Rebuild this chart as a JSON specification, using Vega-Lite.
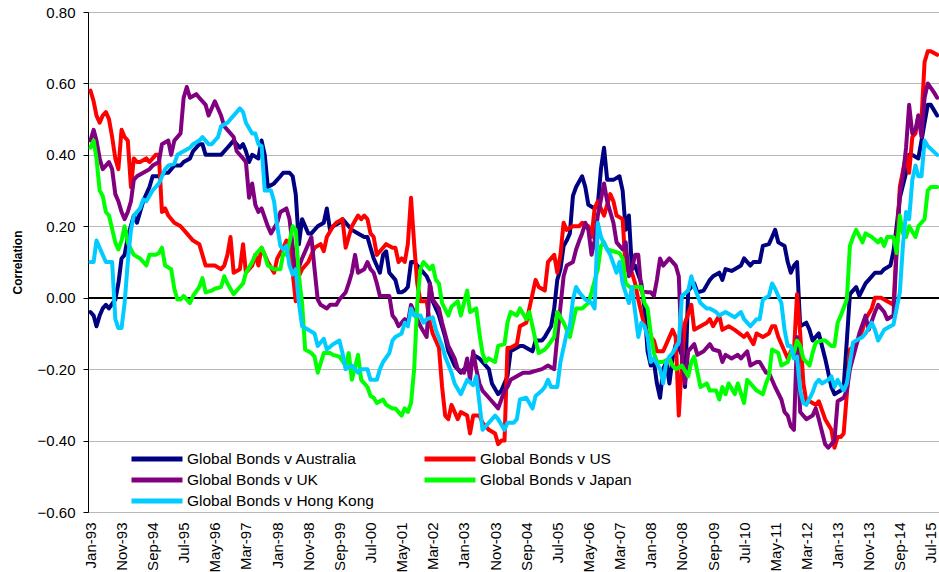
{
  "$schema": "https://vega.github.io/schema/vega-lite/v6.json",
  "width": 851,
  "height": 500,
  "autosize": {"type": "none"},
  "padding": {"left": 88, "top": 12, "right": 0, "bottom": 60},
  "background": "white",
  "config": {
    "font": "Liberation Sans",
    "view": {"stroke": null}
  },
  "data": {"values": [
{"s":"Australia","d":"1993-01","v":-0.04},{"s":"Australia","d":"1993-02","v":-0.05},{"s":"Australia","d":"1993-03","v":-0.08},{"s":"Australia","d":"1993-04","v":-0.05},{"s":"Australia","d":"1993-05","v":-0.03},{"s":"Australia","d":"1993-06","v":-0.02},{"s":"Australia","d":"1993-07","v":-0.03},{"s":"Australia","d":"1993-09","v":-0.005},{"s":"Australia","d":"1993-10","v":0.04},{"s":"Australia","d":"1993-11","v":0.11},{"s":"Australia","d":"1993-12","v":0.12},
{"s":"Australia","d":"1994-01","v":0.17},{"s":"Australia","d":"1994-03","v":0.23},{"s":"Australia","d":"1994-04","v":0.21},{"s":"Australia","d":"1994-06","v":0.27},{"s":"Australia","d":"1994-07","v":0.29},{"s":"Australia","d":"1994-08","v":0.31},{"s":"Australia","d":"1994-09","v":0.34},{"s":"Australia","d":"1994-11","v":0.34},
{"s":"Australia","d":"1995-01","v":0.35},{"s":"Australia","d":"1995-02","v":0.35},{"s":"Australia","d":"1995-04","v":0.37},{"s":"Australia","d":"1995-06","v":0.37},{"s":"Australia","d":"1995-07","v":0.38},{"s":"Australia","d":"1995-09","v":0.39},{"s":"Australia","d":"1995-10","v":0.41},{"s":"Australia","d":"1995-12","v":0.43},
{"s":"Australia","d":"1996-01","v":0.43},{"s":"Australia","d":"1996-02","v":0.40},{"s":"Australia","d":"1996-04","v":0.40},{"s":"Australia","d":"1996-06","v":0.40},{"s":"Australia","d":"1996-07","v":0.40},{"s":"Australia","d":"1996-09","v":0.42},{"s":"Australia","d":"1996-11","v":0.44},
{"s":"Australia","d":"1997-01","v":0.42},{"s":"Australia","d":"1997-02","v":0.43},{"s":"Australia","d":"1997-03","v":0.41},{"s":"Australia","d":"1997-04","v":0.38},{"s":"Australia","d":"1997-05","v":0.40},{"s":"Australia","d":"1997-07","v":0.39},{"s":"Australia","d":"1997-08","v":0.44},{"s":"Australia","d":"1997-09","v":0.40},{"s":"Australia","d":"1997-10","v":0.31},{"s":"Australia","d":"1997-12","v":0.32},
{"s":"Australia","d":"1998-02","v":0.34},{"s":"Australia","d":"1998-03","v":0.35},{"s":"Australia","d":"1998-05","v":0.35},{"s":"Australia","d":"1998-06","v":0.34},{"s":"Australia","d":"1998-07","v":0.29},{"s":"Australia","d":"1998-08","v":0.15},{"s":"Australia","d":"1998-09","v":0.22},{"s":"Australia","d":"1998-11","v":0.18},{"s":"Australia","d":"1998-12","v":0.18},
{"s":"Australia","d":"1999-02","v":0.20},{"s":"Australia","d":"1999-04","v":0.21},{"s":"Australia","d":"1999-05","v":0.25},{"s":"Australia","d":"1999-06","v":0.19},{"s":"Australia","d":"1999-07","v":0.20},{"s":"Australia","d":"1999-09","v":0.21},{"s":"Australia","d":"1999-10","v":0.22},{"s":"Australia","d":"1999-12","v":0.20},
{"s":"Australia","d":"2000-01","v":0.19},{"s":"Australia","d":"2000-03","v":0.18},{"s":"Australia","d":"2000-05","v":0.17},{"s":"Australia","d":"2000-06","v":0.17},{"s":"Australia","d":"2000-07","v":0.14},{"s":"Australia","d":"2000-08","v":0.11},{"s":"Australia","d":"2000-10","v":0.07},{"s":"Australia","d":"2000-11","v":0.12},{"s":"Australia","d":"2000-12","v":0.13},
{"s":"Australia","d":"2001-01","v":0.07},{"s":"Australia","d":"2001-03","v":0.05},{"s":"Australia","d":"2001-04","v":0.015},{"s":"Australia","d":"2001-05","v":0.015},{"s":"Australia","d":"2001-06","v":0.02},{"s":"Australia","d":"2001-07","v":0.03},{"s":"Australia","d":"2001-08","v":0.10},{"s":"Australia","d":"2001-09","v":0.10},{"s":"Australia","d":"2001-11","v":0.08},
{"s":"Australia","d":"2002-01","v":0.06},{"s":"Australia","d":"2002-02","v":0.04},{"s":"Australia","d":"2002-03","v":-0.01},{"s":"Australia","d":"2002-04","v":-0.03},{"s":"Australia","d":"2002-05","v":-0.05},{"s":"Australia","d":"2002-07","v":-0.11},{"s":"Australia","d":"2002-08","v":-0.15},{"s":"Australia","d":"2002-10","v":-0.19},{"s":"Australia","d":"2002-12","v":-0.21},
{"s":"Australia","d":"2003-01","v":-0.20},{"s":"Australia","d":"2003-03","v":-0.20},{"s":"Australia","d":"2003-04","v":-0.16},{"s":"Australia","d":"2003-06","v":-0.17},{"s":"Australia","d":"2003-07","v":-0.18},{"s":"Australia","d":"2003-09","v":-0.20},{"s":"Australia","d":"2003-10","v":-0.24},{"s":"Australia","d":"2003-12","v":-0.27},
{"s":"Australia","d":"2004-01","v":-0.26},{"s":"Australia","d":"2004-03","v":-0.22},{"s":"Australia","d":"2004-04","v":-0.15},{"s":"Australia","d":"2004-05","v":-0.145},{"s":"Australia","d":"2004-07","v":-0.135},{"s":"Australia","d":"2004-08","v":-0.135},{"s":"Australia","d":"2004-10","v":-0.145},{"s":"Australia","d":"2004-11","v":-0.15},{"s":"Australia","d":"2004-12","v":-0.12},
{"s":"Australia","d":"2005-02","v":-0.12},{"s":"Australia","d":"2005-03","v":-0.11},{"s":"Australia","d":"2005-05","v":-0.08},{"s":"Australia","d":"2005-06","v":-0.03},{"s":"Australia","d":"2005-07","v":0.05},{"s":"Australia","d":"2005-08","v":0.08},{"s":"Australia","d":"2005-09","v":0.145},{"s":"Australia","d":"2005-10","v":0.16},{"s":"Australia","d":"2005-11","v":0.18},{"s":"Australia","d":"2005-12","v":0.285},
{"s":"Australia","d":"2006-01","v":0.31},{"s":"Australia","d":"2006-03","v":0.34},{"s":"Australia","d":"2006-04","v":0.31},{"s":"Australia","d":"2006-05","v":0.26},{"s":"Australia","d":"2006-07","v":0.25},{"s":"Australia","d":"2006-08","v":0.26},{"s":"Australia","d":"2006-09","v":0.36},{"s":"Australia","d":"2006-10","v":0.42},{"s":"Australia","d":"2006-11","v":0.33},
{"s":"Australia","d":"2007-01","v":0.33},{"s":"Australia","d":"2007-03","v":0.34},{"s":"Australia","d":"2007-04","v":0.30},{"s":"Australia","d":"2007-05","v":0.19},{"s":"Australia","d":"2007-06","v":0.23},{"s":"Australia","d":"2007-07","v":0.08},{"s":"Australia","d":"2007-08","v":0.09},{"s":"Australia","d":"2007-10","v":0.04},{"s":"Australia","d":"2007-11","v":-0.03},{"s":"Australia","d":"2007-12","v":-0.15},
{"s":"Australia","d":"2008-01","v":-0.19},{"s":"Australia","d":"2008-02","v":-0.18},{"s":"Australia","d":"2008-03","v":-0.24},{"s":"Australia","d":"2008-04","v":-0.28},{"s":"Australia","d":"2008-05","v":-0.20},{"s":"Australia","d":"2008-06","v":-0.18},{"s":"Australia","d":"2008-07","v":-0.24},{"s":"Australia","d":"2008-08","v":-0.17},{"s":"Australia","d":"2008-09","v":-0.13},{"s":"Australia","d":"2008-10","v":-0.14},{"s":"Australia","d":"2008-11","v":-0.16},{"s":"Australia","d":"2008-12","v":-0.25},
{"s":"Australia","d":"2009-01","v":0.02},{"s":"Australia","d":"2009-02","v":0.03},{"s":"Australia","d":"2009-03","v":0.04},{"s":"Australia","d":"2009-04","v":0.015},{"s":"Australia","d":"2009-06","v":0.02},{"s":"Australia","d":"2009-08","v":0.05},{"s":"Australia","d":"2009-09","v":0.06},{"s":"Australia","d":"2009-11","v":0.07},{"s":"Australia","d":"2009-12","v":0.05},
{"s":"Australia","d":"2010-01","v":0.08},{"s":"Australia","d":"2010-03","v":0.075},{"s":"Australia","d":"2010-04","v":0.08},{"s":"Australia","d":"2010-06","v":0.09},{"s":"Australia","d":"2010-07","v":0.11},{"s":"Australia","d":"2010-09","v":0.09},{"s":"Australia","d":"2010-10","v":0.10},{"s":"Australia","d":"2010-12","v":0.10},
{"s":"Australia","d":"2011-01","v":0.145},{"s":"Australia","d":"2011-03","v":0.15},{"s":"Australia","d":"2011-04","v":0.17},{"s":"Australia","d":"2011-05","v":0.19},{"s":"Australia","d":"2011-06","v":0.155},{"s":"Australia","d":"2011-07","v":0.15},{"s":"Australia","d":"2011-08","v":0.145},{"s":"Australia","d":"2011-09","v":0.10},{"s":"Australia","d":"2011-10","v":0.07},{"s":"Australia","d":"2011-11","v":0.09},{"s":"Australia","d":"2011-12","v":0.10},
{"s":"Australia","d":"2012-01","v":-0.08},{"s":"Australia","d":"2012-03","v":-0.07},{"s":"Australia","d":"2012-04","v":-0.09},{"s":"Australia","d":"2012-05","v":-0.12},{"s":"Australia","d":"2012-07","v":-0.10},{"s":"Australia","d":"2012-09","v":-0.17},{"s":"Australia","d":"2012-11","v":-0.25},{"s":"Australia","d":"2012-12","v":-0.27},
{"s":"Australia","d":"2013-02","v":-0.26},{"s":"Australia","d":"2013-03","v":-0.25},{"s":"Australia","d":"2013-04","v":-0.12},{"s":"Australia","d":"2013-05","v":0.01},{"s":"Australia","d":"2013-07","v":0.03},{"s":"Australia","d":"2013-08","v":0.005},{"s":"Australia","d":"2013-10","v":0.04},{"s":"Australia","d":"2013-11","v":0.05},
{"s":"Australia","d":"2014-01","v":0.07},{"s":"Australia","d":"2014-03","v":0.07},{"s":"Australia","d":"2014-04","v":0.08},{"s":"Australia","d":"2014-06","v":0.09},{"s":"Australia","d":"2014-07","v":0.13},{"s":"Australia","d":"2014-08","v":0.20},{"s":"Australia","d":"2014-09","v":0.28},{"s":"Australia","d":"2014-11","v":0.35},{"s":"Australia","d":"2014-12","v":0.40},
{"s":"Australia","d":"2015-01","v":0.40},{"s":"Australia","d":"2015-03","v":0.39},{"s":"Australia","d":"2015-04","v":0.44},{"s":"Australia","d":"2015-05","v":0.49},{"s":"Australia","d":"2015-06","v":0.54},{"s":"Australia","d":"2015-07","v":0.54},{"s":"Australia","d":"2015-09","v":0.51},

{"s":"US","d":"1993-01","v":0.58},{"s":"US","d":"1993-02","v":0.55},{"s":"US","d":"1993-03","v":0.51},{"s":"US","d":"1993-04","v":0.49},{"s":"US","d":"1993-05","v":0.51},{"s":"US","d":"1993-06","v":0.52},{"s":"US","d":"1993-07","v":0.50},{"s":"US","d":"1993-08","v":0.45},{"s":"US","d":"1993-09","v":0.39},{"s":"US","d":"1993-10","v":0.36},{"s":"US","d":"1993-11","v":0.47},{"s":"US","d":"1993-12","v":0.45},
{"s":"US","d":"1994-01","v":0.44},{"s":"US","d":"1994-02","v":0.31},{"s":"US","d":"1994-03","v":0.39},{"s":"US","d":"1994-04","v":0.38},{"s":"US","d":"1994-05","v":0.38},{"s":"US","d":"1994-07","v":0.39},{"s":"US","d":"1994-08","v":0.38},{"s":"US","d":"1994-09","v":0.39},{"s":"US","d":"1994-10","v":0.40},{"s":"US","d":"1994-11","v":0.40},{"s":"US","d":"1994-12","v":0.24},
{"s":"US","d":"1995-01","v":0.25},{"s":"US","d":"1995-02","v":0.23},{"s":"US","d":"1995-04","v":0.21},{"s":"US","d":"1995-06","v":0.20},{"s":"US","d":"1995-08","v":0.18},{"s":"US","d":"1995-10","v":0.16},{"s":"US","d":"1995-12","v":0.15},
{"s":"US","d":"1996-01","v":0.12},{"s":"US","d":"1996-02","v":0.09},{"s":"US","d":"1996-04","v":0.09},{"s":"US","d":"1996-05","v":0.09},{"s":"US","d":"1996-07","v":0.08},{"s":"US","d":"1996-08","v":0.09},{"s":"US","d":"1996-09","v":0.12},{"s":"US","d":"1996-10","v":0.17},{"s":"US","d":"1996-11","v":0.07},
{"s":"US","d":"1997-01","v":0.08},{"s":"US","d":"1997-02","v":0.15},{"s":"US","d":"1997-03","v":0.07},{"s":"US","d":"1997-05","v":0.09},{"s":"US","d":"1997-06","v":0.12},{"s":"US","d":"1997-07","v":0.09},{"s":"US","d":"1997-08","v":0.14},{"s":"US","d":"1997-10","v":0.10},{"s":"US","d":"1997-12","v":0.07},
{"s":"US","d":"1998-01","v":0.11},{"s":"US","d":"1998-03","v":0.14},{"s":"US","d":"1998-04","v":0.16},{"s":"US","d":"1998-05","v":0.14},{"s":"US","d":"1998-06","v":0.07},{"s":"US","d":"1998-07","v":-0.01},{"s":"US","d":"1998-08","v":0.06},{"s":"US","d":"1998-09","v":0.08},{"s":"US","d":"1998-11","v":0.10},{"s":"US","d":"1998-12","v":0.12},
{"s":"US","d":"1999-01","v":0.14},{"s":"US","d":"1999-03","v":0.15},{"s":"US","d":"1999-04","v":0.13},{"s":"US","d":"1999-05","v":0.17},{"s":"US","d":"1999-07","v":0.20},{"s":"US","d":"1999-08","v":0.21},{"s":"US","d":"1999-10","v":0.22},{"s":"US","d":"1999-11","v":0.14},
{"s":"US","d":"2000-01","v":0.20},{"s":"US","d":"2000-03","v":0.23},{"s":"US","d":"2000-04","v":0.22},{"s":"US","d":"2000-05","v":0.23},{"s":"US","d":"2000-06","v":0.22},{"s":"US","d":"2000-07","v":0.18},{"s":"US","d":"2000-08","v":0.17},{"s":"US","d":"2000-09","v":0.12},{"s":"US","d":"2000-11","v":0.14},{"s":"US","d":"2000-12","v":0.15},
{"s":"US","d":"2001-02","v":0.14},{"s":"US","d":"2001-03","v":0.14},{"s":"US","d":"2001-04","v":0.10},{"s":"US","d":"2001-05","v":0.11},{"s":"US","d":"2001-06","v":0.10},{"s":"US","d":"2001-07","v":0.15},{"s":"US","d":"2001-08","v":0.28},{"s":"US","d":"2001-09","v":0.15},{"s":"US","d":"2001-10","v":0.04},{"s":"US","d":"2001-11","v":-0.01},
{"s":"US","d":"2002-01","v":-0.01},{"s":"US","d":"2002-02","v":-0.07},{"s":"US","d":"2002-03","v":-0.10},{"s":"US","d":"2002-05","v":-0.14},{"s":"US","d":"2002-06","v":-0.25},{"s":"US","d":"2002-07","v":-0.33},{"s":"US","d":"2002-08","v":-0.34},{"s":"US","d":"2002-09","v":-0.30},{"s":"US","d":"2002-11","v":-0.34},{"s":"US","d":"2002-12","v":-0.32},
{"s":"US","d":"2003-02","v":-0.33},{"s":"US","d":"2003-03","v":-0.38},{"s":"US","d":"2003-04","v":-0.33},{"s":"US","d":"2003-06","v":-0.33},{"s":"US","d":"2003-07","v":-0.35},{"s":"US","d":"2003-09","v":-0.37},{"s":"US","d":"2003-11","v":-0.38},{"s":"US","d":"2003-12","v":-0.41},
{"s":"US","d":"2004-01","v":-0.40},{"s":"US","d":"2004-02","v":-0.40},{"s":"US","d":"2004-03","v":-0.14},{"s":"US","d":"2004-04","v":-0.14},{"s":"US","d":"2004-06","v":-0.13},{"s":"US","d":"2004-07","v":-0.08},{"s":"US","d":"2004-09","v":-0.07},{"s":"US","d":"2004-10","v":-0.03},{"s":"US","d":"2004-12","v":0.05},
{"s":"US","d":"2005-01","v":0.03},{"s":"US","d":"2005-03","v":0.02},{"s":"US","d":"2005-04","v":0.10},{"s":"US","d":"2005-06","v":0.12},{"s":"US","d":"2005-07","v":0.07},{"s":"US","d":"2005-08","v":0.12},{"s":"US","d":"2005-09","v":0.21},{"s":"US","d":"2005-10","v":0.19},{"s":"US","d":"2005-12","v":0.20},
{"s":"US","d":"2006-02","v":0.20},{"s":"US","d":"2006-03","v":0.21},{"s":"US","d":"2006-05","v":0.20},{"s":"US","d":"2006-06","v":0.17},{"s":"US","d":"2006-07","v":0.25},{"s":"US","d":"2006-08","v":0.27},{"s":"US","d":"2006-10","v":0.23},{"s":"US","d":"2006-12","v":0.29},
{"s":"US","d":"2007-01","v":0.27},{"s":"US","d":"2007-02","v":0.23},{"s":"US","d":"2007-04","v":0.22},{"s":"US","d":"2007-05","v":0.08},{"s":"US","d":"2007-07","v":0.07},{"s":"US","d":"2007-08","v":0.04},{"s":"US","d":"2007-09","v":-0.005},{"s":"US","d":"2007-11","v":-0.08},{"s":"US","d":"2007-12","v":-0.10},
{"s":"US","d":"2008-02","v":-0.12},{"s":"US","d":"2008-03","v":-0.15},{"s":"US","d":"2008-05","v":-0.15},{"s":"US","d":"2008-06","v":-0.13},{"s":"US","d":"2008-08","v":-0.09},{"s":"US","d":"2008-09","v":-0.11},{"s":"US","d":"2008-10","v":-0.33},{"s":"US","d":"2008-11","v":-0.18},{"s":"US","d":"2008-12","v":-0.07},
{"s":"US","d":"2009-02","v":-0.02},{"s":"US","d":"2009-03","v":-0.09},{"s":"US","d":"2009-05","v":-0.08},{"s":"US","d":"2009-07","v":-0.07},{"s":"US","d":"2009-08","v":-0.06},{"s":"US","d":"2009-09","v":-0.08},{"s":"US","d":"2009-11","v":-0.05},{"s":"US","d":"2009-12","v":-0.09},
{"s":"US","d":"2010-02","v":-0.08},{"s":"US","d":"2010-04","v":-0.09},{"s":"US","d":"2010-07","v":-0.11},{"s":"US","d":"2010-08","v":-0.10},{"s":"US","d":"2010-10","v":-0.13},{"s":"US","d":"2010-11","v":-0.10},
{"s":"US","d":"2011-01","v":-0.11},{"s":"US","d":"2011-03","v":-0.10},{"s":"US","d":"2011-04","v":-0.08},{"s":"US","d":"2011-05","v":-0.08},{"s":"US","d":"2011-06","v":-0.11},{"s":"US","d":"2011-08","v":-0.15},{"s":"US","d":"2011-09","v":-0.17},{"s":"US","d":"2011-10","v":-0.15},{"s":"US","d":"2011-11","v":-0.15},{"s":"US","d":"2011-12","v":0.01},
{"s":"US","d":"2012-01","v":-0.10},{"s":"US","d":"2012-02","v":-0.24},{"s":"US","d":"2012-03","v":-0.29},{"s":"US","d":"2012-04","v":-0.29},{"s":"US","d":"2012-06","v":-0.30},{"s":"US","d":"2012-07","v":-0.29},{"s":"US","d":"2012-09","v":-0.34},{"s":"US","d":"2012-11","v":-0.37},{"s":"US","d":"2012-12","v":-0.42},
{"s":"US","d":"2013-01","v":-0.39},{"s":"US","d":"2013-02","v":-0.39},{"s":"US","d":"2013-03","v":-0.38},{"s":"US","d":"2013-04","v":-0.27},{"s":"US","d":"2013-05","v":-0.145},{"s":"US","d":"2013-07","v":-0.13},{"s":"US","d":"2013-09","v":-0.09},{"s":"US","d":"2013-10","v":-0.06},{"s":"US","d":"2013-12","v":-0.03},
{"s":"US","d":"2014-01","v":0.0},{"s":"US","d":"2014-03","v":0.0},{"s":"US","d":"2014-05","v":-0.01},{"s":"US","d":"2014-07","v":-0.02},{"s":"US","d":"2014-08","v":0.145},{"s":"US","d":"2014-09","v":0.31},{"s":"US","d":"2014-11","v":0.40},{"s":"US","d":"2014-12","v":0.35},
{"s":"US","d":"2015-01","v":0.45},{"s":"US","d":"2015-02","v":0.46},{"s":"US","d":"2015-03","v":0.51},{"s":"US","d":"2015-04","v":0.50},{"s":"US","d":"2015-05","v":0.66},{"s":"US","d":"2015-06","v":0.69},{"s":"US","d":"2015-07","v":0.69},{"s":"US","d":"2015-09","v":0.68},

{"s":"UK","d":"1993-01","v":0.44},{"s":"UK","d":"1993-02","v":0.47},{"s":"UK","d":"1993-03","v":0.44},{"s":"UK","d":"1993-04","v":0.39},{"s":"UK","d":"1993-05","v":0.36},{"s":"UK","d":"1993-06","v":0.37},{"s":"UK","d":"1993-07","v":0.38},{"s":"UK","d":"1993-08","v":0.36},{"s":"UK","d":"1993-09","v":0.29},{"s":"UK","d":"1993-10","v":0.27},{"s":"UK","d":"1993-11","v":0.24},{"s":"UK","d":"1993-12","v":0.22},
{"s":"UK","d":"1994-01","v":0.24},{"s":"UK","d":"1994-02","v":0.27},{"s":"UK","d":"1994-03","v":0.33},{"s":"UK","d":"1994-04","v":0.34},{"s":"UK","d":"1994-06","v":0.35},{"s":"UK","d":"1994-08","v":0.36},{"s":"UK","d":"1994-09","v":0.37},{"s":"UK","d":"1994-11","v":0.38},{"s":"UK","d":"1994-12","v":0.43},
{"s":"UK","d":"1995-02","v":0.44},{"s":"UK","d":"1995-03","v":0.40},{"s":"UK","d":"1995-04","v":0.44},{"s":"UK","d":"1995-06","v":0.46},{"s":"UK","d":"1995-07","v":0.56},{"s":"UK","d":"1995-08","v":0.59},{"s":"UK","d":"1995-09","v":0.56},{"s":"UK","d":"1995-11","v":0.57},{"s":"UK","d":"1995-12","v":0.56},
{"s":"UK","d":"1996-02","v":0.54},{"s":"UK","d":"1996-03","v":0.51},{"s":"UK","d":"1996-05","v":0.55},{"s":"UK","d":"1996-07","v":0.51},{"s":"UK","d":"1996-08","v":0.48},{"s":"UK","d":"1996-09","v":0.47},{"s":"UK","d":"1996-11","v":0.45},{"s":"UK","d":"1996-12","v":0.41},
{"s":"UK","d":"1997-02","v":0.39},{"s":"UK","d":"1997-03","v":0.38},{"s":"UK","d":"1997-04","v":0.28},{"s":"UK","d":"1997-05","v":0.32},{"s":"UK","d":"1997-06","v":0.26},{"s":"UK","d":"1997-07","v":0.24},{"s":"UK","d":"1997-08","v":0.25},{"s":"UK","d":"1997-10","v":0.20},{"s":"UK","d":"1997-11","v":0.18},
{"s":"UK","d":"1998-01","v":0.21},{"s":"UK","d":"1998-02","v":0.24},{"s":"UK","d":"1998-04","v":0.25},{"s":"UK","d":"1998-05","v":0.22},{"s":"UK","d":"1998-06","v":0.145},{"s":"UK","d":"1998-07","v":0.06},{"s":"UK","d":"1998-09","v":0.11},{"s":"UK","d":"1998-11","v":0.15},{"s":"UK","d":"1998-12","v":0.17},
{"s":"UK","d":"1999-01","v":0.08},{"s":"UK","d":"1999-02","v":-0.005},{"s":"UK","d":"1999-03","v":-0.02},{"s":"UK","d":"1999-05","v":-0.03},{"s":"UK","d":"1999-06","v":-0.02},{"s":"UK","d":"1999-08","v":-0.02},{"s":"UK","d":"1999-09","v":-0.005},{"s":"UK","d":"1999-11","v":0.015},{"s":"UK","d":"1999-12","v":0.04},
{"s":"UK","d":"2000-01","v":0.07},{"s":"UK","d":"2000-02","v":0.12},{"s":"UK","d":"2000-03","v":0.07},{"s":"UK","d":"2000-05","v":0.08},{"s":"UK","d":"2000-06","v":0.10},{"s":"UK","d":"2000-07","v":0.08},{"s":"UK","d":"2000-08","v":0.07},{"s":"UK","d":"2000-09","v":0.04},{"s":"UK","d":"2000-10","v":0.005},{"s":"UK","d":"2000-12","v":0.005},
{"s":"UK","d":"2001-01","v":0.005},{"s":"UK","d":"2001-02","v":-0.05},{"s":"UK","d":"2001-03","v":-0.06},{"s":"UK","d":"2001-04","v":-0.08},{"s":"UK","d":"2001-06","v":-0.06},{"s":"UK","d":"2001-07","v":-0.07},{"s":"UK","d":"2001-08","v":-0.02},{"s":"UK","d":"2001-09","v":-0.04},{"s":"UK","d":"2001-11","v":-0.08},
{"s":"UK","d":"2002-01","v":-0.11},{"s":"UK","d":"2002-02","v":0.04},{"s":"UK","d":"2002-03","v":-0.005},{"s":"UK","d":"2002-05","v":-0.03},{"s":"UK","d":"2002-06","v":-0.07},{"s":"UK","d":"2002-08","v":-0.135},{"s":"UK","d":"2002-10","v":-0.17},{"s":"UK","d":"2002-11","v":-0.20},
{"s":"UK","d":"2003-01","v":-0.21},{"s":"UK","d":"2003-02","v":-0.17},{"s":"UK","d":"2003-03","v":-0.23},{"s":"UK","d":"2003-04","v":-0.15},{"s":"UK","d":"2003-05","v":-0.20},{"s":"UK","d":"2003-06","v":-0.24},{"s":"UK","d":"2003-07","v":-0.26},{"s":"UK","d":"2003-09","v":-0.28},{"s":"UK","d":"2003-10","v":-0.29},{"s":"UK","d":"2003-12","v":-0.31},
{"s":"UK","d":"2004-01","v":-0.285},{"s":"UK","d":"2004-02","v":-0.26},{"s":"UK","d":"2004-03","v":-0.25},{"s":"UK","d":"2004-04","v":-0.23},{"s":"UK","d":"2004-06","v":-0.22},{"s":"UK","d":"2004-08","v":-0.21},{"s":"UK","d":"2004-10","v":-0.21},{"s":"UK","d":"2004-12","v":-0.205},
{"s":"UK","d":"2005-02","v":-0.20},{"s":"UK","d":"2005-04","v":-0.19},{"s":"UK","d":"2005-06","v":-0.20},{"s":"UK","d":"2005-07","v":-0.11},{"s":"UK","d":"2005-09","v":0.06},{"s":"UK","d":"2005-10","v":0.09},{"s":"UK","d":"2005-12","v":0.10},
{"s":"UK","d":"2006-01","v":0.135},{"s":"UK","d":"2006-02","v":0.16},{"s":"UK","d":"2006-03","v":0.18},{"s":"UK","d":"2006-04","v":0.21},{"s":"UK","d":"2006-05","v":0.19},{"s":"UK","d":"2006-06","v":0.12},{"s":"UK","d":"2006-07","v":0.16},{"s":"UK","d":"2006-08","v":0.23},{"s":"UK","d":"2006-09","v":0.275},{"s":"UK","d":"2006-10","v":0.32},{"s":"UK","d":"2006-11","v":0.27},{"s":"UK","d":"2006-12","v":0.24},
{"s":"UK","d":"2007-01","v":0.21},{"s":"UK","d":"2007-02","v":0.155},{"s":"UK","d":"2007-04","v":0.135},{"s":"UK","d":"2007-05","v":0.155},{"s":"UK","d":"2007-06","v":0.06},{"s":"UK","d":"2007-07","v":0.08},{"s":"UK","d":"2007-08","v":0.12},{"s":"UK","d":"2007-09","v":0.12},{"s":"UK","d":"2007-10","v":0.02},{"s":"UK","d":"2007-12","v":0.015},
{"s":"UK","d":"2008-01","v":0.015},{"s":"UK","d":"2008-02","v":0.005},{"s":"UK","d":"2008-03","v":0.05},{"s":"UK","d":"2008-04","v":0.11},{"s":"UK","d":"2008-05","v":0.09},{"s":"UK","d":"2008-07","v":0.11},{"s":"UK","d":"2008-09","v":0.09},{"s":"UK","d":"2008-10","v":0.06},{"s":"UK","d":"2008-11","v":-0.17},{"s":"UK","d":"2008-12","v":-0.24},
{"s":"UK","d":"2009-01","v":-0.15},{"s":"UK","d":"2009-03","v":-0.13},{"s":"UK","d":"2009-04","v":-0.16},{"s":"UK","d":"2009-06","v":-0.15},{"s":"UK","d":"2009-08","v":-0.13},{"s":"UK","d":"2009-09","v":-0.145},{"s":"UK","d":"2009-11","v":-0.15},{"s":"UK","d":"2009-12","v":-0.18},
{"s":"UK","d":"2010-01","v":-0.16},{"s":"UK","d":"2010-03","v":-0.17},{"s":"UK","d":"2010-05","v":-0.16},{"s":"UK","d":"2010-06","v":-0.17},{"s":"UK","d":"2010-08","v":-0.15},{"s":"UK","d":"2010-09","v":-0.19},{"s":"UK","d":"2010-11","v":-0.18},{"s":"UK","d":"2010-12","v":-0.18},
{"s":"UK","d":"2011-02","v":-0.21},{"s":"UK","d":"2011-03","v":-0.21},{"s":"UK","d":"2011-05","v":-0.25},{"s":"UK","d":"2011-07","v":-0.285},{"s":"UK","d":"2011-08","v":-0.32},{"s":"UK","d":"2011-09","v":-0.33},{"s":"UK","d":"2011-10","v":-0.36},{"s":"UK","d":"2011-11","v":-0.37},{"s":"UK","d":"2011-12","v":-0.11},
{"s":"UK","d":"2012-01","v":-0.32},{"s":"UK","d":"2012-03","v":-0.34},{"s":"UK","d":"2012-05","v":-0.33},{"s":"UK","d":"2012-06","v":-0.31},{"s":"UK","d":"2012-07","v":-0.34},{"s":"UK","d":"2012-09","v":-0.41},{"s":"UK","d":"2012-10","v":-0.42},{"s":"UK","d":"2012-12","v":-0.40},
{"s":"UK","d":"2013-01","v":-0.29},{"s":"UK","d":"2013-03","v":-0.28},{"s":"UK","d":"2013-04","v":-0.26},{"s":"UK","d":"2013-05","v":-0.20},{"s":"UK","d":"2013-07","v":-0.135},{"s":"UK","d":"2013-08","v":-0.10},{"s":"UK","d":"2013-10","v":-0.05},{"s":"UK","d":"2013-11","v":-0.09},
{"s":"UK","d":"2014-01","v":-0.04},{"s":"UK","d":"2014-02","v":-0.02},{"s":"UK","d":"2014-04","v":-0.04},{"s":"UK","d":"2014-05","v":-0.06},{"s":"UK","d":"2014-07","v":-0.05},{"s":"UK","d":"2014-08","v":0.13},{"s":"UK","d":"2014-09","v":0.29},{"s":"UK","d":"2014-10","v":0.34},{"s":"UK","d":"2014-11","v":0.42},{"s":"UK","d":"2014-12","v":0.54},
{"s":"UK","d":"2015-01","v":0.46},{"s":"UK","d":"2015-02","v":0.47},{"s":"UK","d":"2015-03","v":0.51},{"s":"UK","d":"2015-04","v":0.45},{"s":"UK","d":"2015-05","v":0.56},{"s":"UK","d":"2015-06","v":0.60},{"s":"UK","d":"2015-08","v":0.575},{"s":"UK","d":"2015-09","v":0.56},

{"s":"Japan","d":"1993-01","v":0.42},{"s":"Japan","d":"1993-02","v":0.44},{"s":"Japan","d":"1993-03","v":0.39},{"s":"Japan","d":"1993-04","v":0.30},{"s":"Japan","d":"1993-05","v":0.285},{"s":"Japan","d":"1993-06","v":0.24},{"s":"Japan","d":"1993-07","v":0.23},{"s":"Japan","d":"1993-09","v":0.155},{"s":"Japan","d":"1993-10","v":0.135},{"s":"Japan","d":"1993-11","v":0.16},{"s":"Japan","d":"1993-12","v":0.20},
{"s":"Japan","d":"1994-01","v":0.155},{"s":"Japan","d":"1994-02","v":0.135},{"s":"Japan","d":"1994-03","v":0.12},{"s":"Japan","d":"1994-05","v":0.11},{"s":"Japan","d":"1994-06","v":0.10},{"s":"Japan","d":"1994-07","v":0.09},{"s":"Japan","d":"1994-08","v":0.12},{"s":"Japan","d":"1994-10","v":0.12},{"s":"Japan","d":"1994-11","v":0.125},{"s":"Japan","d":"1994-12","v":0.14},
{"s":"Japan","d":"1995-01","v":0.09},{"s":"Japan","d":"1995-03","v":0.08},{"s":"Japan","d":"1995-04","v":0.025},{"s":"Japan","d":"1995-05","v":-0.005},{"s":"Japan","d":"1995-06","v":-0.005},{"s":"Japan","d":"1995-07","v":0.005},{"s":"Japan","d":"1995-09","v":-0.015},{"s":"Japan","d":"1995-10","v":0.005},{"s":"Japan","d":"1995-12","v":0.03},
{"s":"Japan","d":"1996-01","v":0.055},{"s":"Japan","d":"1996-02","v":0.015},{"s":"Japan","d":"1996-04","v":0.02},{"s":"Japan","d":"1996-05","v":0.025},{"s":"Japan","d":"1996-07","v":0.03},{"s":"Japan","d":"1996-08","v":0.06},{"s":"Japan","d":"1996-09","v":0.04},{"s":"Japan","d":"1996-11","v":0.01},
{"s":"Japan","d":"1997-01","v":0.03},{"s":"Japan","d":"1997-02","v":0.04},{"s":"Japan","d":"1997-03","v":0.07},{"s":"Japan","d":"1997-05","v":0.10},{"s":"Japan","d":"1997-06","v":0.12},{"s":"Japan","d":"1997-08","v":0.14},{"s":"Japan","d":"1997-09","v":0.12},{"s":"Japan","d":"1997-10","v":0.09},{"s":"Japan","d":"1997-12","v":0.08},
{"s":"Japan","d":"1998-02","v":0.08},{"s":"Japan","d":"1998-03","v":0.125},{"s":"Japan","d":"1998-04","v":0.12},{"s":"Japan","d":"1998-05","v":0.155},{"s":"Japan","d":"1998-06","v":0.20},{"s":"Japan","d":"1998-07","v":0.19},{"s":"Japan","d":"1998-08","v":0.06},{"s":"Japan","d":"1998-09","v":-0.015},{"s":"Japan","d":"1998-10","v":-0.145},{"s":"Japan","d":"1998-12","v":-0.155},
{"s":"Japan","d":"1999-01","v":-0.165},{"s":"Japan","d":"1999-02","v":-0.21},{"s":"Japan","d":"1999-04","v":-0.155},{"s":"Japan","d":"1999-06","v":-0.155},{"s":"Japan","d":"1999-07","v":-0.16},{"s":"Japan","d":"1999-09","v":-0.165},{"s":"Japan","d":"1999-11","v":-0.19},{"s":"Japan","d":"1999-12","v":-0.155},
{"s":"Japan","d":"2000-01","v":-0.23},{"s":"Japan","d":"2000-03","v":-0.16},{"s":"Japan","d":"2000-04","v":-0.23},{"s":"Japan","d":"2000-06","v":-0.25},{"s":"Japan","d":"2000-07","v":-0.275},{"s":"Japan","d":"2000-08","v":-0.28},{"s":"Japan","d":"2000-09","v":-0.295},{"s":"Japan","d":"2000-11","v":-0.285},{"s":"Japan","d":"2000-12","v":-0.30},
{"s":"Japan","d":"2001-02","v":-0.31},{"s":"Japan","d":"2001-03","v":-0.31},{"s":"Japan","d":"2001-05","v":-0.33},{"s":"Japan","d":"2001-06","v":-0.31},{"s":"Japan","d":"2001-07","v":-0.32},{"s":"Japan","d":"2001-08","v":-0.295},{"s":"Japan","d":"2001-09","v":-0.20},{"s":"Japan","d":"2001-10","v":-0.015},{"s":"Japan","d":"2001-11","v":0.08},{"s":"Japan","d":"2001-12","v":0.10},
{"s":"Japan","d":"2002-02","v":0.08},{"s":"Japan","d":"2002-03","v":0.09},{"s":"Japan","d":"2002-04","v":0.05},{"s":"Japan","d":"2002-05","v":0.04},{"s":"Japan","d":"2002-06","v":-0.015},{"s":"Japan","d":"2002-08","v":-0.05},{"s":"Japan","d":"2002-09","v":-0.025},{"s":"Japan","d":"2002-11","v":-0.01},{"s":"Japan","d":"2002-12","v":-0.05},
{"s":"Japan","d":"2003-01","v":-0.015},{"s":"Japan","d":"2003-02","v":0.02},{"s":"Japan","d":"2003-03","v":-0.04},{"s":"Japan","d":"2003-05","v":-0.03},{"s":"Japan","d":"2003-06","v":-0.10},{"s":"Japan","d":"2003-07","v":-0.155},{"s":"Japan","d":"2003-08","v":-0.18},{"s":"Japan","d":"2003-09","v":-0.17},{"s":"Japan","d":"2003-11","v":-0.18},{"s":"Japan","d":"2003-12","v":-0.135},
{"s":"Japan","d":"2004-02","v":-0.13},{"s":"Japan","d":"2004-03","v":-0.07},{"s":"Japan","d":"2004-04","v":-0.04},{"s":"Japan","d":"2004-06","v":-0.05},{"s":"Japan","d":"2004-07","v":-0.03},{"s":"Japan","d":"2004-09","v":-0.06},{"s":"Japan","d":"2004-10","v":-0.04},{"s":"Japan","d":"2004-12","v":-0.12},
{"s":"Japan","d":"2005-01","v":-0.155},{"s":"Japan","d":"2005-03","v":-0.145},{"s":"Japan","d":"2005-04","v":-0.135},{"s":"Japan","d":"2005-06","v":-0.11},{"s":"Japan","d":"2005-07","v":-0.04},{"s":"Japan","d":"2005-09","v":-0.07},{"s":"Japan","d":"2005-11","v":-0.11},{"s":"Japan","d":"2005-12","v":-0.07},
{"s":"Japan","d":"2006-01","v":-0.03},{"s":"Japan","d":"2006-03","v":-0.03},{"s":"Japan","d":"2006-05","v":-0.015},{"s":"Japan","d":"2006-06","v":0.015},{"s":"Japan","d":"2006-08","v":0.08},{"s":"Japan","d":"2006-09","v":0.145},{"s":"Japan","d":"2006-10","v":0.155},{"s":"Japan","d":"2006-11","v":0.135},
{"s":"Japan","d":"2007-01","v":0.13},{"s":"Japan","d":"2007-03","v":0.125},{"s":"Japan","d":"2007-04","v":0.11},{"s":"Japan","d":"2007-05","v":0.04},{"s":"Japan","d":"2007-07","v":0.025},{"s":"Japan","d":"2007-08","v":0.03},{"s":"Japan","d":"2007-10","v":0.03},{"s":"Japan","d":"2007-11","v":-0.015},{"s":"Japan","d":"2007-12","v":-0.03},
{"s":"Japan","d":"2008-01","v":-0.10},{"s":"Japan","d":"2008-02","v":-0.155},{"s":"Japan","d":"2008-03","v":-0.18},{"s":"Japan","d":"2008-05","v":-0.18},{"s":"Japan","d":"2008-07","v":-0.17},{"s":"Japan","d":"2008-08","v":-0.19},{"s":"Japan","d":"2008-09","v":-0.20},{"s":"Japan","d":"2008-11","v":-0.19},
{"s":"Japan","d":"2009-01","v":-0.22},{"s":"Japan","d":"2009-02","v":-0.18},{"s":"Japan","d":"2009-03","v":-0.165},{"s":"Japan","d":"2009-05","v":-0.25},{"s":"Japan","d":"2009-07","v":-0.24},{"s":"Japan","d":"2009-08","v":-0.26},{"s":"Japan","d":"2009-10","v":-0.26},{"s":"Japan","d":"2009-11","v":-0.285},{"s":"Japan","d":"2009-12","v":-0.25},
{"s":"Japan","d":"2010-01","v":-0.27},{"s":"Japan","d":"2010-02","v":-0.24},{"s":"Japan","d":"2010-04","v":-0.27},{"s":"Japan","d":"2010-05","v":-0.24},{"s":"Japan","d":"2010-07","v":-0.295},{"s":"Japan","d":"2010-08","v":-0.23},{"s":"Japan","d":"2010-09","v":-0.24},{"s":"Japan","d":"2010-11","v":-0.26},
{"s":"Japan","d":"2011-01","v":-0.27},{"s":"Japan","d":"2011-02","v":-0.24},{"s":"Japan","d":"2011-03","v":-0.22},{"s":"Japan","d":"2011-04","v":-0.145},{"s":"Japan","d":"2011-06","v":-0.155},{"s":"Japan","d":"2011-07","v":-0.19},{"s":"Japan","d":"2011-09","v":-0.18},{"s":"Japan","d":"2011-10","v":-0.155},{"s":"Japan","d":"2011-11","v":-0.155},{"s":"Japan","d":"2011-12","v":-0.12},
{"s":"Japan","d":"2012-01","v":-0.135},{"s":"Japan","d":"2012-02","v":-0.17},{"s":"Japan","d":"2012-04","v":-0.19},{"s":"Japan","d":"2012-05","v":-0.155},{"s":"Japan","d":"2012-06","v":-0.125},{"s":"Japan","d":"2012-08","v":-0.12},{"s":"Japan","d":"2012-09","v":-0.12},{"s":"Japan","d":"2012-11","v":-0.135},{"s":"Japan","d":"2012-12","v":-0.135},
{"s":"Japan","d":"2013-01","v":-0.07},{"s":"Japan","d":"2013-02","v":-0.05},{"s":"Japan","d":"2013-04","v":-0.005},{"s":"Japan","d":"2013-05","v":0.145},{"s":"Japan","d":"2013-06","v":0.17},{"s":"Japan","d":"2013-07","v":0.19},{"s":"Japan","d":"2013-09","v":0.155},{"s":"Japan","d":"2013-10","v":0.18},{"s":"Japan","d":"2013-12","v":0.17},
{"s":"Japan","d":"2014-02","v":0.155},{"s":"Japan","d":"2014-03","v":0.165},{"s":"Japan","d":"2014-04","v":0.145},{"s":"Japan","d":"2014-05","v":0.17},{"s":"Japan","d":"2014-07","v":0.17},{"s":"Japan","d":"2014-08","v":0.125},{"s":"Japan","d":"2014-09","v":0.23},{"s":"Japan","d":"2014-10","v":0.18},{"s":"Japan","d":"2014-11","v":0.17},{"s":"Japan","d":"2014-12","v":0.20},
{"s":"Japan","d":"2015-02","v":0.17},{"s":"Japan","d":"2015-03","v":0.20},{"s":"Japan","d":"2015-05","v":0.22},{"s":"Japan","d":"2015-06","v":0.30},{"s":"Japan","d":"2015-07","v":0.31},{"s":"Japan","d":"2015-09","v":0.31},

{"s":"Hong Kong","d":"1993-01","v":0.10},{"s":"Hong Kong","d":"1993-02","v":0.10},{"s":"Hong Kong","d":"1993-03","v":0.16},{"s":"Hong Kong","d":"1993-04","v":0.14},{"s":"Hong Kong","d":"1993-05","v":0.12},{"s":"Hong Kong","d":"1993-06","v":0.10},{"s":"Hong Kong","d":"1993-07","v":0.10},{"s":"Hong Kong","d":"1993-08","v":0.10},{"s":"Hong Kong","d":"1993-09","v":-0.06},{"s":"Hong Kong","d":"1993-10","v":-0.085},{"s":"Hong Kong","d":"1993-11","v":-0.085},{"s":"Hong Kong","d":"1993-12","v":-0.015},
{"s":"Hong Kong","d":"1994-01","v":0.10},{"s":"Hong Kong","d":"1994-02","v":0.19},{"s":"Hong Kong","d":"1994-03","v":0.23},{"s":"Hong Kong","d":"1994-05","v":0.25},{"s":"Hong Kong","d":"1994-06","v":0.275},{"s":"Hong Kong","d":"1994-07","v":0.27},{"s":"Hong Kong","d":"1994-09","v":0.30},{"s":"Hong Kong","d":"1994-10","v":0.31},{"s":"Hong Kong","d":"1994-11","v":0.32},
{"s":"Hong Kong","d":"1995-01","v":0.36},{"s":"Hong Kong","d":"1995-02","v":0.37},{"s":"Hong Kong","d":"1995-04","v":0.375},{"s":"Hong Kong","d":"1995-05","v":0.40},{"s":"Hong Kong","d":"1995-07","v":0.41},{"s":"Hong Kong","d":"1995-09","v":0.42},{"s":"Hong Kong","d":"1995-10","v":0.43},{"s":"Hong Kong","d":"1995-12","v":0.44},
{"s":"Hong Kong","d":"1996-01","v":0.45},{"s":"Hong Kong","d":"1996-03","v":0.43},{"s":"Hong Kong","d":"1996-04","v":0.43},{"s":"Hong Kong","d":"1996-06","v":0.45},{"s":"Hong Kong","d":"1996-07","v":0.48},{"s":"Hong Kong","d":"1996-09","v":0.49},{"s":"Hong Kong","d":"1996-10","v":0.50},{"s":"Hong Kong","d":"1996-11","v":0.51},
{"s":"Hong Kong","d":"1997-01","v":0.53},{"s":"Hong Kong","d":"1997-02","v":0.52},{"s":"Hong Kong","d":"1997-03","v":0.49},{"s":"Hong Kong","d":"1997-05","v":0.46},{"s":"Hong Kong","d":"1997-06","v":0.46},{"s":"Hong Kong","d":"1997-07","v":0.43},{"s":"Hong Kong","d":"1997-08","v":0.425},{"s":"Hong Kong","d":"1997-09","v":0.30},{"s":"Hong Kong","d":"1997-11","v":0.30},{"s":"Hong Kong","d":"1997-12","v":0.27},
{"s":"Hong Kong","d":"1998-01","v":0.20},{"s":"Hong Kong","d":"1998-02","v":0.145},{"s":"Hong Kong","d":"1998-03","v":0.135},{"s":"Hong Kong","d":"1998-04","v":0.145},{"s":"Hong Kong","d":"1998-05","v":0.09},{"s":"Hong Kong","d":"1998-06","v":0.065},{"s":"Hong Kong","d":"1998-07","v":0.08},{"s":"Hong Kong","d":"1998-08","v":-0.015},{"s":"Hong Kong","d":"1998-09","v":-0.08},{"s":"Hong Kong","d":"1998-11","v":-0.09},
{"s":"Hong Kong","d":"1999-01","v":-0.10},{"s":"Hong Kong","d":"1999-02","v":-0.135},{"s":"Hong Kong","d":"1999-04","v":-0.115},{"s":"Hong Kong","d":"1999-05","v":-0.145},{"s":"Hong Kong","d":"1999-07","v":-0.13},{"s":"Hong Kong","d":"1999-09","v":-0.12},{"s":"Hong Kong","d":"1999-10","v":-0.155},{"s":"Hong Kong","d":"1999-11","v":-0.20},
{"s":"Hong Kong","d":"2000-01","v":-0.19},{"s":"Hong Kong","d":"2000-03","v":-0.21},{"s":"Hong Kong","d":"2000-04","v":-0.20},{"s":"Hong Kong","d":"2000-06","v":-0.20},{"s":"Hong Kong","d":"2000-07","v":-0.23},{"s":"Hong Kong","d":"2000-08","v":-0.23},{"s":"Hong Kong","d":"2000-09","v":-0.23},{"s":"Hong Kong","d":"2000-10","v":-0.20},{"s":"Hong Kong","d":"2000-11","v":-0.18},
{"s":"Hong Kong","d":"2001-01","v":-0.155},{"s":"Hong Kong","d":"2001-02","v":-0.12},{"s":"Hong Kong","d":"2001-03","v":-0.11},{"s":"Hong Kong","d":"2001-05","v":-0.10},{"s":"Hong Kong","d":"2001-06","v":-0.07},{"s":"Hong Kong","d":"2001-07","v":-0.08},{"s":"Hong Kong","d":"2001-08","v":-0.03},{"s":"Hong Kong","d":"2001-09","v":-0.05},{"s":"Hong Kong","d":"2001-11","v":-0.05},{"s":"Hong Kong","d":"2001-12","v":-0.07},
{"s":"Hong Kong","d":"2002-01","v":-0.06},{"s":"Hong Kong","d":"2002-03","v":-0.055},{"s":"Hong Kong","d":"2002-04","v":-0.09},{"s":"Hong Kong","d":"2002-06","v":-0.135},{"s":"Hong Kong","d":"2002-07","v":-0.165},{"s":"Hong Kong","d":"2002-09","v":-0.21},{"s":"Hong Kong","d":"2002-10","v":-0.24},{"s":"Hong Kong","d":"2002-12","v":-0.27},
{"s":"Hong Kong","d":"2003-01","v":-0.25},{"s":"Hong Kong","d":"2003-02","v":-0.23},{"s":"Hong Kong","d":"2003-04","v":-0.245},{"s":"Hong Kong","d":"2003-05","v":-0.22},{"s":"Hong Kong","d":"2003-06","v":-0.295},{"s":"Hong Kong","d":"2003-07","v":-0.37},{"s":"Hong Kong","d":"2003-09","v":-0.35},{"s":"Hong Kong","d":"2003-11","v":-0.33},{"s":"Hong Kong","d":"2003-12","v":-0.34},
{"s":"Hong Kong","d":"2004-02","v":-0.37},{"s":"Hong Kong","d":"2004-03","v":-0.35},{"s":"Hong Kong","d":"2004-05","v":-0.35},{"s":"Hong Kong","d":"2004-06","v":-0.34},{"s":"Hong Kong","d":"2004-07","v":-0.285},{"s":"Hong Kong","d":"2004-09","v":-0.28},{"s":"Hong Kong","d":"2004-11","v":-0.31},{"s":"Hong Kong","d":"2004-12","v":-0.275},
{"s":"Hong Kong","d":"2005-02","v":-0.26},{"s":"Hong Kong","d":"2005-03","v":-0.25},{"s":"Hong Kong","d":"2005-04","v":-0.23},{"s":"Hong Kong","d":"2005-05","v":-0.25},{"s":"Hong Kong","d":"2005-07","v":-0.25},{"s":"Hong Kong","d":"2005-08","v":-0.18},{"s":"Hong Kong","d":"2005-10","v":-0.10},{"s":"Hong Kong","d":"2005-11","v":-0.08},{"s":"Hong Kong","d":"2005-12","v":-0.005},
{"s":"Hong Kong","d":"2006-01","v":0.03},{"s":"Hong Kong","d":"2006-02","v":0.015},{"s":"Hong Kong","d":"2006-04","v":-0.005},{"s":"Hong Kong","d":"2006-06","v":-0.015},{"s":"Hong Kong","d":"2006-07","v":-0.03},{"s":"Hong Kong","d":"2006-08","v":0.21},{"s":"Hong Kong","d":"2006-09","v":0.17},{"s":"Hong Kong","d":"2006-11","v":0.135},{"s":"Hong Kong","d":"2006-12","v":0.12},
{"s":"Hong Kong","d":"2007-02","v":0.07},{"s":"Hong Kong","d":"2007-03","v":0.10},{"s":"Hong Kong","d":"2007-04","v":0.04},{"s":"Hong Kong","d":"2007-06","v":-0.015},{"s":"Hong Kong","d":"2007-07","v":0.03},{"s":"Hong Kong","d":"2007-09","v":-0.11},{"s":"Hong Kong","d":"2007-10","v":-0.07},{"s":"Hong Kong","d":"2007-11","v":-0.08},{"s":"Hong Kong","d":"2007-12","v":-0.11},
{"s":"Hong Kong","d":"2008-01","v":-0.18},{"s":"Hong Kong","d":"2008-02","v":-0.17},{"s":"Hong Kong","d":"2008-04","v":-0.20},{"s":"Hong Kong","d":"2008-05","v":-0.24},{"s":"Hong Kong","d":"2008-06","v":-0.18},{"s":"Hong Kong","d":"2008-07","v":-0.165},{"s":"Hong Kong","d":"2008-08","v":-0.155},{"s":"Hong Kong","d":"2008-10","v":-0.125},{"s":"Hong Kong","d":"2008-11","v":0.005},
{"s":"Hong Kong","d":"2009-01","v":0.02},{"s":"Hong Kong","d":"2009-02","v":0.06},{"s":"Hong Kong","d":"2009-03","v":0.03},{"s":"Hong Kong","d":"2009-05","v":-0.015},{"s":"Hong Kong","d":"2009-07","v":-0.03},{"s":"Hong Kong","d":"2009-08","v":-0.03},{"s":"Hong Kong","d":"2009-10","v":-0.04},{"s":"Hong Kong","d":"2009-11","v":-0.05},
{"s":"Hong Kong","d":"2010-01","v":-0.04},{"s":"Hong Kong","d":"2010-03","v":-0.05},{"s":"Hong Kong","d":"2010-04","v":-0.055},{"s":"Hong Kong","d":"2010-06","v":-0.04},{"s":"Hong Kong","d":"2010-07","v":-0.06},{"s":"Hong Kong","d":"2010-09","v":-0.08},{"s":"Hong Kong","d":"2010-11","v":-0.06},{"s":"Hong Kong","d":"2010-12","v":-0.06},
{"s":"Hong Kong","d":"2011-01","v":-0.005},{"s":"Hong Kong","d":"2011-03","v":0.005},{"s":"Hong Kong","d":"2011-04","v":0.04},{"s":"Hong Kong","d":"2011-05","v":0.025},{"s":"Hong Kong","d":"2011-07","v":-0.015},{"s":"Hong Kong","d":"2011-08","v":-0.09},{"s":"Hong Kong","d":"2011-09","v":-0.135},{"s":"Hong Kong","d":"2011-10","v":-0.135},{"s":"Hong Kong","d":"2011-11","v":-0.17},{"s":"Hong Kong","d":"2011-12","v":-0.165},
{"s":"Hong Kong","d":"2012-01","v":-0.26},{"s":"Hong Kong","d":"2012-02","v":-0.295},{"s":"Hong Kong","d":"2012-03","v":-0.30},{"s":"Hong Kong","d":"2012-05","v":-0.265},{"s":"Hong Kong","d":"2012-06","v":-0.24},{"s":"Hong Kong","d":"2012-07","v":-0.23},{"s":"Hong Kong","d":"2012-08","v":-0.24},{"s":"Hong Kong","d":"2012-10","v":-0.23},{"s":"Hong Kong","d":"2012-11","v":-0.22},{"s":"Hong Kong","d":"2012-12","v":-0.25},
{"s":"Hong Kong","d":"2013-01","v":-0.23},{"s":"Hong Kong","d":"2013-03","v":-0.26},{"s":"Hong Kong","d":"2013-04","v":-0.24},{"s":"Hong Kong","d":"2013-06","v":-0.125},{"s":"Hong Kong","d":"2013-07","v":-0.12},{"s":"Hong Kong","d":"2013-09","v":-0.11},{"s":"Hong Kong","d":"2013-10","v":-0.10},{"s":"Hong Kong","d":"2013-12","v":-0.07},
{"s":"Hong Kong","d":"2014-01","v":-0.09},{"s":"Hong Kong","d":"2014-02","v":-0.12},{"s":"Hong Kong","d":"2014-04","v":-0.09},{"s":"Hong Kong","d":"2014-06","v":-0.08},{"s":"Hong Kong","d":"2014-07","v":-0.075},{"s":"Hong Kong","d":"2014-09","v":0.015},{"s":"Hong Kong","d":"2014-10","v":0.145},{"s":"Hong Kong","d":"2014-11","v":0.24},{"s":"Hong Kong","d":"2014-12","v":0.22},
{"s":"Hong Kong","d":"2015-01","v":0.33},{"s":"Hong Kong","d":"2015-02","v":0.37},{"s":"Hong Kong","d":"2015-03","v":0.34},{"s":"Hong Kong","d":"2015-04","v":0.34},{"s":"Hong Kong","d":"2015-05","v":0.44},{"s":"Hong Kong","d":"2015-06","v":0.425},{"s":"Hong Kong","d":"2015-09","v":0.40}
  ]},
  "layer": [
    {
      "mark": {"type": "rule", "color": "black", "strokeWidth": 1},
      "encoding": {"y": {"datum": 0, "type": "quantitative"}}
    },
    {
      "mark": {"type": "line", "strokeWidth": 4, "strokeJoin": "round", "strokeCap": "round"},
      "encoding": {
        "x": {
          "field": "d", "type": "temporal",
          "scale": {"type": "utc", "domain": [{"year": 1992, "month": 12, "date": 8, "utc": true}, {"year": 2015, "month": 9, "date": 19, "utc": true}]},
          "axis": {
            "title": null,
            "values": [
              {"year":1993,"month":1,"date":1,"utc":true},{"year":1993,"month":11,"date":1,"utc":true},{"year":1994,"month":9,"date":1,"utc":true},{"year":1995,"month":7,"date":1,"utc":true},
              {"year":1996,"month":5,"date":1,"utc":true},{"year":1997,"month":3,"date":1,"utc":true},{"year":1998,"month":1,"date":1,"utc":true},{"year":1998,"month":11,"date":1,"utc":true},
              {"year":1999,"month":9,"date":1,"utc":true},{"year":2000,"month":7,"date":1,"utc":true},{"year":2001,"month":5,"date":1,"utc":true},{"year":2002,"month":3,"date":1,"utc":true},
              {"year":2003,"month":1,"date":1,"utc":true},{"year":2003,"month":11,"date":1,"utc":true},{"year":2004,"month":9,"date":1,"utc":true},{"year":2005,"month":7,"date":1,"utc":true},
              {"year":2006,"month":5,"date":1,"utc":true},{"year":2007,"month":3,"date":1,"utc":true},{"year":2008,"month":1,"date":1,"utc":true},{"year":2008,"month":11,"date":1,"utc":true},
              {"year":2009,"month":9,"date":1,"utc":true},{"year":2010,"month":7,"date":1,"utc":true},{"year":2011,"month":5,"date":1,"utc":true},{"year":2012,"month":3,"date":1,"utc":true},
              {"year":2013,"month":1,"date":1,"utc":true},{"year":2013,"month":11,"date":1,"utc":true},{"year":2014,"month":9,"date":1,"utc":true},{"year":2015,"month":7,"date":1,"utc":true}
            ],
            "labelExpr": "utcFormat(datum.value, '%b-%y')",
            "labelAngle": -90, "labelFontSize": 15, "labelColor": "black",
            "labelPadding": 10, "labelOverlap": false, "labelFlush": false, "labelBound": false,
            "grid": false, "domain": false, "ticks": false, "tickSize": 0
          }
        },
        "y": {
          "field": "v", "type": "quantitative",
          "scale": {"domain": [-0.6, 0.8], "nice": false, "zero": false},
          "axis": {
            "title": "Correlation", "titleFontSize": 12, "titleFontWeight": "bold", "titleColor": "black",
            "titleX": -71, "titleY": 250, "titleAngle": -90, "titleAlign": "center", "titleBaseline": "middle",
            "values": [-0.6, -0.4, -0.2, 0, 0.2, 0.4, 0.6, 0.8],
            "format": ".2f", "labelFontSize": 15, "labelColor": "black", "labelPadding": 8,
            "domainColor": "black", "domainWidth": 1, "tickColor": "black", "tickSize": 5,
            "grid": true, "gridColor": "#707070", "gridDash": [1, 1], "gridWidth": 1
          }
        },
        "color": {
          "field": "s", "type": "nominal",
          "scale": {"domain": ["Australia", "US", "UK", "Japan", "Hong Kong"], "range": ["#000080", "#FF0000", "#800080", "#00FF00", "#00CCFF"]},
          "legend": {
            "title": null, "orient": "none", "legendX": 58, "legendY": 436, "columns": 2,
            "direction": "horizontal",
            "symbolType": "M-3,0H3", "symbolStrokeWidth": 5, "symbolSize": 289,
            "labelExpr": "'Global Bonds v ' + datum.label",
            "labelFontSize": 15.5, "labelColor": "black", "labelOffset": 19, "labelLimit": 400,
            "columnPadding": 40, "rowPadding": -1, "padding": 0
          }
        }
      }
    }
  ]
}
